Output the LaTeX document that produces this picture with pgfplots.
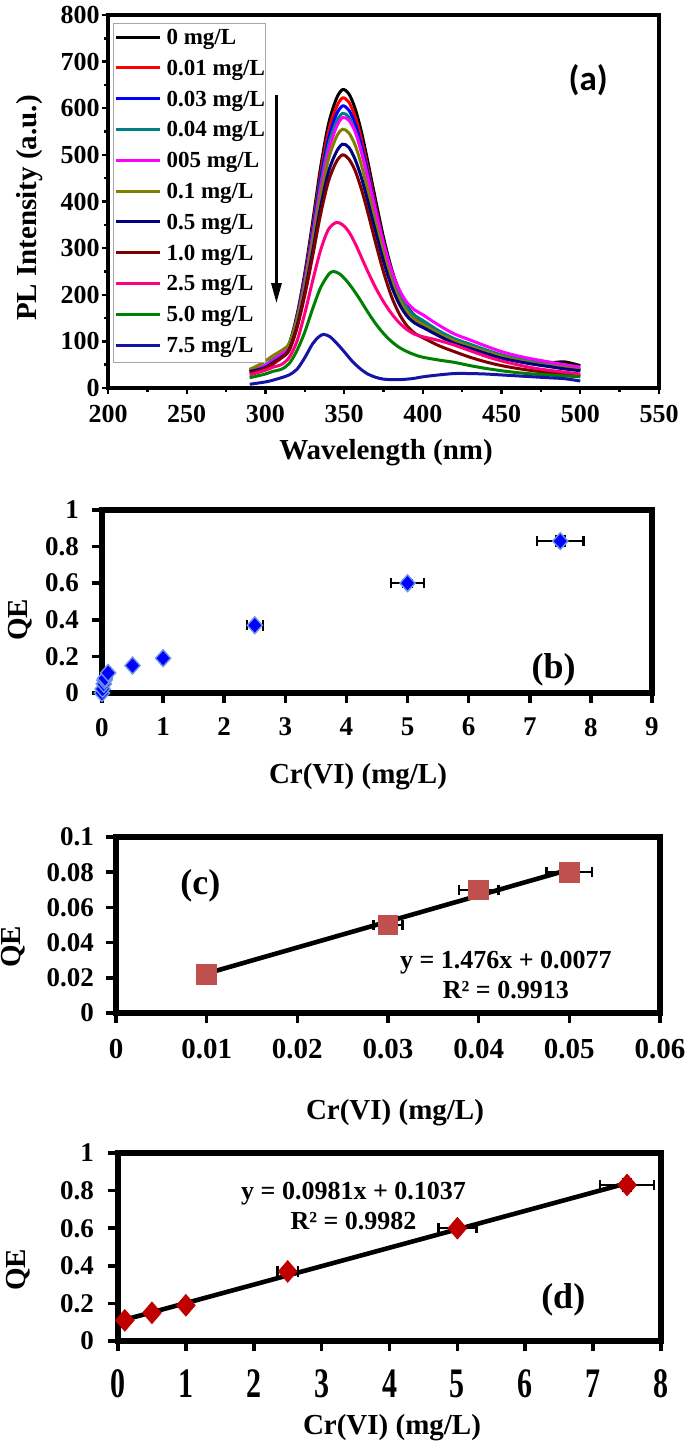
\documentclass[border=0pt]{standalone}
\usepackage{fontspec}
\setmainfont{Liberation Serif}
\newfontfamily\carlito{Carlito}
\usepackage{pgfplots}
\pgfplotsset{compat=1.18}
\usepackage{pgfplotstable}
\usetikzlibrary{arrows.meta}

\definecolor{cBlack}{RGB}{0,0,0}
\definecolor{cRed}{RGB}{255,0,0}
\definecolor{cBlue}{RGB}{0,0,255}
\definecolor{cTeal}{RGB}{0,128,128}
\definecolor{cMag}{RGB}{255,0,255}
\definecolor{cOlive}{RGB}{128,128,0}
\definecolor{cNavy}{RGB}{0,0,128}
\definecolor{cBrown}{RGB}{128,0,0}
\definecolor{cPink}{RGB}{255,0,128}
\definecolor{cGreen}{RGB}{0,128,0}
\definecolor{cRoyal}{RGB}{20,20,165}
\definecolor{qeBlue}{RGB}{0,0,255}
\definecolor{qeEdge}{RGB}{110,150,230}
\definecolor{sqRed}{RGB}{192,80,77}
\definecolor{dmRed}{RGB}{192,0,0}

\newcommand{\fT}{\fontsize{13}{13}\selectfont\bfseries}
\newcommand{\fTT}{\fontsize{13.5}{13.5}\selectfont\bfseries}
\newcommand{\fL}{\fontsize{14.5}{14.5}\selectfont\bfseries}
\newcommand{\fE}{\fontsize{13}{15}\selectfont\bfseries}
\newcommand{\fP}{\fontsize{18}{18}\selectfont\bfseries}

\pgfplotstableread{
x   c0  c01 c03 c04 c05 c1  c5  c10
290 38  36  38  39  38  40  35  32
295 42  40  42  43  42  48  39  36
300 48  46  48  49  48  58  44  42
305 61  58  61  62  60  70  55  52
310 73  70  73  73  72  80  66  64
315 94  90  92  92  90  95  82  80
320 156 151 150 148 145 144 132 128
325 246 239 235 230 225 219 205 199
330 356 346 338 329 322 312 293 283
335 472 459 447 435 425 410 387 372
340 565 550 534 520 508 490 463 443
345 620 602 586 570 559 538 506 485
349 640 622 605 589 580 555 523 500
353 631 613 596 581 574 547 516 491
357 599 582 567 552 550 521 490 466
361 549 533 520 507 506 478 451 426
365 486 472 462 451 452 425 401 377
370 403 390 384 376 380 355 335 311
375 323 313 310 305 310 288 272 249
380 257 248 248 245 253 232 219 197
385 208 199 202 201 211 191 180 159
390 175 168 172 172 183 163 154 133
395 155 148 153 155 167 147 139 117
400 143 137 142 145 157 137 130 108
410 121 115 121 123 135 117 112 91
420 104 99  104 106 116 101 96  78
430 92  87  92  94  103 89  85  66
440 80  76  80  82  90  78  74  56
450 70  67  70  71  78  68  64  48
460 62  59  62  63  69  60  57  42
470 56  52  55  56  62  53  51  37
480 54  48  50  51  56  48  46  33
490 56  43  45  46  50  44  41  30
500 48  38  40  41  45  39  37  27
}\spec

\pgfplotsset{
  qebox/.style={
    scale only axis, anchor=south west,
    tick align=outside, xtick pos=bottom, ytick pos=left,
    major tick length=5pt,
    axis line style={line width=2.8pt},
    every tick/.style={black, line width=1.8pt},
    tick label style={font=\fTT},
    /pgf/number format/assume math mode=true,
    scaled ticks=false,
    clip=false,
  },
  error bars/ebar/.style={
    error bar style={black, line width=1.2pt},
    error mark options={black, rotate=90, mark size=2.6pt, line width=1.2pt},
  },
}

\begin{document}
\begin{tikzpicture}
\useasboundingbox (0,0) rectangle (342.5pt,-723pt);

% ---------------- (a) ----------------
\begin{axis}[
  at={(54pt,-194pt)}, anchor=south west,
  scale only axis, width=275.5pt, height=186.5pt,
  xmin=200, xmax=550, ymin=0, ymax=800,
  xtick={200,250,...,550}, ytick={0,100,...,800},
  minor x tick num=1, minor y tick num=1,
  tick align=outside, xtick pos=bottom, ytick pos=left,
  major tick length=3pt, minor tick length=1.8pt,
  axis line style={line width=1.6pt},
  every tick/.style={black, line width=1.2pt},
  tick label style={font=\fT},
  /pgf/number format/assume math mode=true,
  yticklabel style={inner xsep=1pt},
  xticklabel style={yshift=-2pt},
  legend style={at={(axis cs:203.2,783)}, anchor=north west,
     draw=gray!70, line width=0.5pt,
     font=\fontsize{11.5}{11.5}\selectfont\bfseries,
     inner xsep=0.5pt, inner ysep=2.5pt, row sep=4.8pt, column sep=2.5pt,
     nodes={inner sep=0pt, text height=8pt, text depth=2.6pt},
     cells={anchor=west}},
  legend image code/.code={\draw[#1, line width=1.5pt] (0pt,1pt) -- (22pt,1pt);},
]
\addplot[cBlack, line width=1.5pt, smooth] table[x=x,y=c0]{\spec};
\addlegendentry{0 mg/L}
\addplot[cRed, line width=1.5pt, smooth] table[x=x,y=c01]{\spec};
\addlegendentry{0.01 mg/L}
\addplot[cBlue, line width=1.5pt, smooth] table[x=x,y=c03]{\spec};
\addlegendentry{0.03 mg/L}
\addplot[cTeal, line width=1.5pt, smooth] table[x=x,y=c04]{\spec};
\addlegendentry{0.04 mg/L}
\addplot[cMag, line width=1.5pt, smooth] table[x=x,y=c05]{\spec};
\addlegendentry{005 mg/L}
\addplot[cOlive, line width=1.5pt, smooth] table[x=x,y=c1]{\spec};
\addlegendentry{0.1 mg/L}
\addplot[cNavy, line width=1.5pt, smooth] table[x=x,y=c5]{\spec};
\addlegendentry{0.5 mg/L}
\addplot[cBrown, line width=1.5pt, smooth] table[x=x,y=c10]{\spec};
\addlegendentry{1.0 mg/L}
\addplot[cPink, line width=1.5pt, smooth] coordinates {
(290,28) (300,38) (305,45) (310,50) (315,65) (320,100) (325,160) (330,230)
(335,295) (340,340) (345,355) (349,350) (353,335) (357,310) (361,280)
(365,250) (370,215) (375,185) (380,160) (385,140) (390,125) (395,115)
(400,110) (410,102) (420,92) (430,80) (440,68) (450,58) (460,50)
(470,43) (480,38) (490,34) (500,30)};
\addlegendentry{2.5 mg/L}
\addplot[cGreen, line width=1.5pt, smooth] coordinates {
(290,22) (300,30) (305,36) (310,40) (315,52) (320,80) (325,120) (330,170)
(335,215) (340,243) (343,250) (347,245) (351,232) (355,215) (360,190)
(365,163) (370,138) (375,117) (380,100) (385,87) (390,78) (395,71)
(400,66) (410,60) (420,55) (430,48) (440,42) (450,37) (460,33)
(470,30) (480,28) (490,26) (500,24)};
\addlegendentry{5.0 mg/L}
\addplot[cRoyal, line width=1.5pt, smooth] coordinates {
(290,8) (300,13) (305,17) (310,22) (315,28) (320,40) (325,65) (330,95)
(334,110) (337,115) (341,110) (345,97) (350,78) (355,58) (360,42)
(365,30) (370,23) (375,19) (380,18) (385,18) (390,19) (395,21)
(400,24) (410,28) (420,31) (430,31) (440,30) (450,28) (460,26)
(470,24) (480,22) (490,20) (500,15)};
\addlegendentry{7.5 mg/L}
\draw[-{Triangle[length=10pt,width=5pt]}, line width=1.4pt]
  (axis cs:307,628) -- (axis cs:307,182);
\node[font=\carlito\fontsize{17.5}{17.5}\selectfont\bfseries] at (axis cs:505,661) {(a)};
\end{axis}

% ---------------- (b) ----------------
\begin{axis}[qebox,
  at={(51pt,-346.5pt)}, width=275pt, height=91.5pt,
  xmin=0, xmax=9, ymin=0, ymax=1,
  xtick={0,1,2,3,4,5,6,7,8,9}, ytick={0,0.2,0.4,0.6,0.8,1},
  xticklabel style={yshift=-4pt}, yticklabel style={xshift=-3pt},
]
\addplot[only marks, mark=diamond*, mark size=4.2pt,
  mark options={fill=qeBlue, draw=qeEdge, line width=0.7pt, xscale=1.2},
  error bars/.cd, x dir=both, x explicit, y dir=both, y explicit, ebar]
coordinates {
(0,0) +- (0,0)
(0.01,0.022) +- (0,0)
(0.03,0.05) +- (0,0)
(0.04,0.07) +- (0,0)
(0.05,0.08) +- (0,0)
(0.1,0.11) +- (0,0)
(0.5,0.15) +- (0,0)
(1,0.19) +- (0,0)
(2.5,0.37) +- (0.13,0.012)
(5,0.60) +- (0.27,0.018)
(7.5,0.83) +- (0.38,0.025)
};
\node[font=\fP] at (axis cs:7.39,0.127) {(b)};
\end{axis}

% ---------------- (c) ----------------
\begin{axis}[qebox,
  at={(58pt,-506.5pt)}, width=272pt, height=88pt,
  xmin=0, xmax=0.06, ymin=0, ymax=0.1,
  xtick={0,0.01,0.02,0.03,0.04,0.05,0.06}, ytick={0,0.02,0.04,0.06,0.08,0.1},
  xticklabel style={/pgf/number format/fixed, /pgf/number format/precision=2, yshift=-4.5pt,
    font=\fontsize{14.5}{14.5}\selectfont\bfseries},
  yticklabel style={/pgf/number format/fixed, /pgf/number format/precision=2, xshift=-2.5pt},
]
\addplot[only marks, mark=square*, mark size=4.9pt,
  mark options={fill=sqRed, draw=sqRed},
  error bars/.cd, x dir=both, x explicit, ebar]
coordinates {
(0.01,0.022) +- (0,0)
(0.03,0.05) +- (0.0016,0)
(0.04,0.07) +- (0.0022,0)
(0.05,0.08) +- (0.0025,0)
};
\addplot[black, line width=2.3pt] coordinates {(0.01,0.02246) (0.05,0.0815)};
\node[font=\fP] at (axis cs:0.0093,0.072) {(c)};
\node[font=\fE, align=center] at (axis cs:0.043,0.0217) {y = 1.476x + 0.0077\\R² = 0.9913};
\end{axis}

% ---------------- (d) ----------------
\begin{axis}[qebox,
  at={(59pt,-670.5pt)}, width=271.5pt, height=94pt,
  xmin=0, xmax=8, ymin=0, ymax=1,
  xtick={0,1,2,3,4,5,6,7,8}, ytick={0,0.2,0.4,0.6,0.8,1},
  xticklabel shift=4.5pt,
  xticklabel style={yscale=1.4, font=\fontsize{15}{15}\selectfont\bfseries},
  yticklabel style={xshift=-3.5pt},
]
\addplot[only marks, mark=diamond*, mark size=5.4pt,
  mark options={fill=dmRed, draw=dmRed, xscale=1.15},
  error bars/.cd, x dir=both, x explicit, y dir=both, y explicit, ebar]
coordinates {
(0.1,0.11) +- (0,0)
(0.5,0.15) +- (0,0)
(1,0.19) +- (0,0)
(2.5,0.37) +- (0.15,0.015)
(5,0.60) +- (0.28,0.02)
(7.5,0.83) +- (0.40,0.03)
};
\addplot[black, line width=2.3pt] coordinates {(0.1,0.1135) (7.5,0.8395)};
\node[font=\fP] at (axis cs:6.56,0.22) {(d)};
\node[font=\fE, align=center] at (axis cs:3.47,0.72) {y = 0.0981x + 0.1037\\R² = 0.9982};
\end{axis}

% axis labels
\node[font=\fL] at (193pt,-226.5pt) {Wavelength (nm)};
\node[font=\fL, rotate=90] at (15pt,-104pt) {PL Intensity (a.u.)};
\node[font=\fL] at (179pt,-388.5pt) {Cr(VI) (mg/L)};
\node[font=\fL, rotate=90] at (10pt,-310pt) {QE};
\node[font=\fL] at (197.5pt,-556.5pt) {Cr(VI) (mg/L)};
\node[font=\fL, rotate=90] at (6.5pt,-473.5pt) {QE};
\node[font=\fL] at (196pt,-714pt) {Cr(VI) (mg/L)};
\node[font=\fL, rotate=90] at (9pt,-635pt) {QE};
\end{tikzpicture}
\end{document}
